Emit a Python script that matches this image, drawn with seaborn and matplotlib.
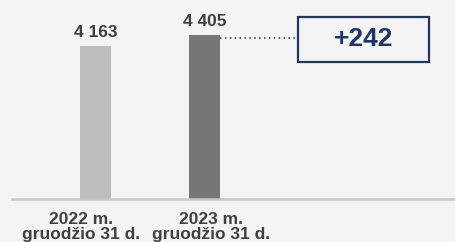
import matplotlib
matplotlib.use("Agg")
import matplotlib.pyplot as plt
from matplotlib.patches import Rectangle
import seaborn as sns

categories = ["2022 m.\ngruodžio 31 d.", "2023 m.\ngruodžio 31 d."]
values = [4163, 4405]
bar_colors = ["#bdbebf", "#767779"]

bg = "#f3f4f3"
navy = "#1f3568"
text_gray = "#3f3f3f"

sns.set_theme(style="white")
plt.rcParams["font.family"] = ["Liberation Sans", "DejaVu Sans"]

fig = plt.figure(figsize=(4.56, 2.42), dpi=100, facecolor=bg)
ax = fig.add_axes([12 / 456, 43.5 / 242, 444 / 456, 198.5 / 242])
ax.set_facecolor(bg)

sns.barplot(x=categories, y=values, hue=categories, palette=bar_colors,
            width=0.284, legend=False, saturation=1, linewidth=0, ax=ax)

ax.set_xlim(-0.766, 3.307)
ax.set_ylim(800, 5190)

for i, v in enumerate(values):
    ax.text(i, v + 140, f"{v:,}".replace(",", " "), ha="center", va="bottom",
            fontsize=12.5, fontweight="bold", color=text_gray)

# dotted connector to the difference box
ax.plot([1 + 0.142, 1.858], [values[1] - 60, values[1] - 60], linestyle=(0, (1, 2.2)),
        color=navy, linewidth=1.1)

fig.patches.append(Rectangle((298 / 456, 1 - 62 / 242), 131 / 456, 45 / 242,
                             transform=fig.transFigure, fill=False,
                             edgecolor=navy, linewidth=1.6))
fig.text(363.5 / 456, 1 - 39.5 / 242, f"+{values[1] - values[0]}", ha="center", va="center",
         fontsize=19, fontweight="bold", color=navy)

for s in ["top", "right", "left"]:
    ax.spines[s].set_visible(False)
ax.spines["bottom"].set_color("#c6c7c7")
ax.spines["bottom"].set_linewidth(1.8)
ax.set_yticks([])
# category labels sit slightly apart from the bars
ax.set_xticks([-0.128, 1.064])
ax.set_xticklabels(categories)
ax.tick_params(axis="x", length=0, pad=9.5)
for lbl in ax.get_xticklabels():
    lbl.set_fontsize(12.5)
    lbl.set_fontweight("bold")
    lbl.set_color(text_gray)
    lbl.set_linespacing(1.0)
ax.set_xlabel("")
ax.set_ylabel("")

fig.savefig("out.png", dpi=100, facecolor=bg)
